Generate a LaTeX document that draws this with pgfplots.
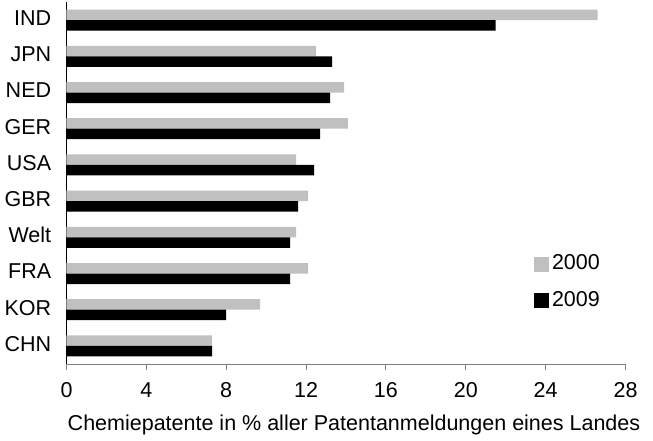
\documentclass[border=0pt]{standalone}
\usepackage{fontspec}
\setmainfont{Liberation Sans}
\usepackage{pgfplots}
\pgfplotsset{compat=1.18}
\definecolor{lgray}{HTML}{C0C0C0}
\definecolor{agray}{HTML}{808080}
\begin{document}
\fontsize{21.5bp}{25bp}\selectfont
\begin{tikzpicture}
\begin{axis}[
  at={(0,0)}, anchor=south west,
  scale only axis,
  width=559bp, height=362bp,
  xbar, bar width=10.5bp,
  xmin=0, xmax=28,
  ymin=-0.5, ymax=9.5,
  y dir=reverse,
  xtick={0,4,8,12,16,20,24,28},
  ytick={0,1,2,3,4,5,6,7,8,9},
  yticklabels={IND,JPN,NED,GER,USA,GBR,Welt,FRA,KOR,CHN},
  axis x line*=bottom,
  axis y line*=left,
  x axis line style={draw=agray, line width=1bp, -},
  y axis line style={draw=black, line width=1bp, -},
  x tick style={draw=agray, line width=1bp},
  xtick pos=bottom,
  tick align=outside,
  major tick length=6bp,
  ytick style={draw=none},
  /pgf/number format/assume math mode=true,
  ticklabel style={font=\fontsize{21.5bp}{25bp}\selectfont},
  yticklabel style={xshift=-2bp, yshift=2bp},
  xticklabel style={yshift=-5bp},
  xlabel={Chemiepatente in \% aller Patentanmeldungen eines Landes},
  xlabel style={font=\fontsize{21.5bp}{25bp}\selectfont, yshift=-3bp, xshift=8bp},
  legend style={at={(0.836,0.31)}, anchor=north west, draw=none, fill=none,
    font=\fontsize{21.5bp}{25bp}\selectfont, row sep=12bp,
    inner sep=0pt, nodes={inner sep=3bp}},
  legend cell align=left,
  clip=false,
]
\addplot[fill=lgray, draw=none, bar shift=5.25bp,
  legend image code/.code={\fill[lgray] (0bp,-7.5bp) rectangle (15bp,7.5bp);}]
  coordinates {(26.6,0) (12.5,1) (13.9,2) (14.1,3) (11.5,4) (12.1,5) (11.5,6) (12.1,7) (9.7,8) (7.3,9)};
\addplot[fill=black, draw=none, bar shift=-5.25bp,
  legend image code/.code={\fill[black] (0bp,-7.5bp) rectangle (15bp,7.5bp);}]
  coordinates {(21.5,0) (13.3,1) (13.2,2) (12.7,3) (12.4,4) (11.6,5) (11.2,6) (11.2,7) (8.0,8) (7.3,9)};
\legend{2000,2009}
\end{axis}
\pgfresetboundingbox
\path (-66.5bp,-77bp) rectangle (586.5bp,364bp);
\end{tikzpicture}
\end{document}
